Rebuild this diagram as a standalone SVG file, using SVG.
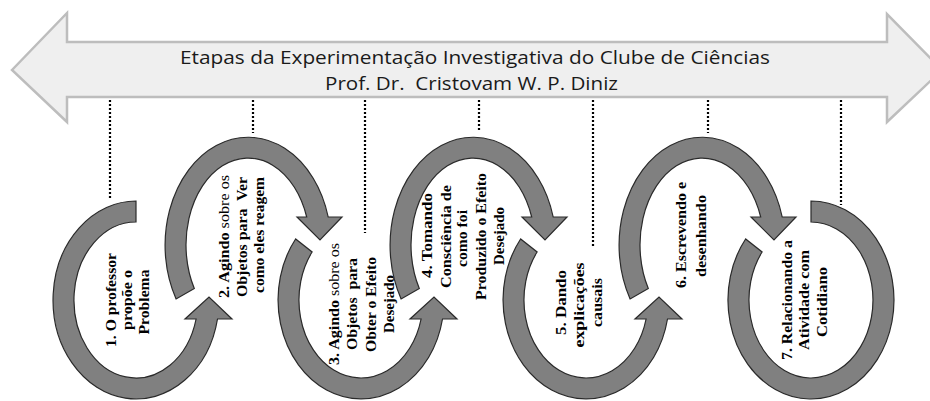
<svg xmlns="http://www.w3.org/2000/svg" width="930" height="401" viewBox="0 0 930 401">
<style>
.bg{fill:#ffffff}
.banner{fill:#efefef;stroke:#bdbdbd;stroke-width:2.5;stroke-linejoin:miter}
.title{font-family:"Open Sans","Liberation Sans",sans-serif;font-size:19px;fill:#1a1a1a}
.ring{fill:#808080;stroke:#2a2a2a;stroke-width:1.2;stroke-linejoin:miter}
.dot{stroke:#000;stroke-width:2.2;stroke-dasharray:2 2;fill:none}
.t{font-family:"Liberation Serif","Times New Roman",serif;font-weight:bold;font-size:15px;fill:#000;text-anchor:middle}
.n{font-weight:normal}
</style>
<rect class="bg" x="0" y="0" width="930" height="401"/>
<g id="banner">
<path class="banner" d="M12,70 L67,13 L67,42 L887,42 L887,14 L942,70 L887,122 L887,97 L67,97 L67,122 Z"/>
<text class="title" x="475" y="64" text-anchor="middle" textLength="590" lengthAdjust="spacingAndGlyphs">Etapas da Experimentação Investigativa do Clube de Ciências</text>
<text class="title" x="471.5" y="90" text-anchor="middle" textLength="293" lengthAdjust="spacingAndGlyphs" xml:space="preserve">Prof. Dr.  Cristovam W. P. Diniz</text>
</g>
<g id="connectors">
<line class="dot" x1="110" y1="100" x2="110" y2="198"/>
<line class="dot" x1="253" y1="100" x2="253" y2="133"/>
<line class="dot" x1="365" y1="100" x2="365" y2="233"/>
<line class="dot" x1="479" y1="100" x2="479" y2="130"/>
<line class="dot" x1="593" y1="100" x2="593" y2="247"/>
<line class="dot" x1="708" y1="100" x2="708" y2="133"/>
<line class="dot" x1="841" y1="100" x2="841" y2="205"/>
</g>
<g id="step1">
<path class="ring" d="M136,201 A83,99 0 1 0 217.5,319 L232,319 L209,297 L185,319 L196.1,319 A62,78 0 1 1 136,222 Z"/>
<text class="t" transform="translate(116,300) rotate(-90)" textLength="94" lengthAdjust="spacingAndGlyphs">1. O professor</text>
<text class="t" transform="translate(132,300) rotate(-90)" textLength="60" lengthAdjust="spacingAndGlyphs">propõe o</text>
<text class="t" transform="translate(149,302) rotate(-90)" textLength="65" lengthAdjust="spacingAndGlyphs">Problema</text>
</g>
<g id="step2">
<path class="ring" d="M176.1,299 A83,108 0 1 1 328.2,217 L342,217 L320,240 L297,217 L306.7,217 A62,87 0 1 0 194.3,288.5 Z"/>
<text class="t" transform="translate(229,236.5) rotate(-90)" textLength="123" lengthAdjust="spacingAndGlyphs">2. Agindo <tspan class="n">sobre os</tspan></text>
<text class="t" transform="translate(247,237) rotate(-90)" textLength="120" lengthAdjust="spacingAndGlyphs" xml:space="preserve">Objetos para  Ver</text>
<text class="t" transform="translate(264,235) rotate(-90)" textLength="116" lengthAdjust="spacingAndGlyphs">como eles reagem</text>
</g>
<g id="step3">
<path class="ring" d="M295.6,239 A83,99 0 1 0 442.5,319 L457,319 L434,297 L410,319 L421.1,319 A62,78 0 1 1 312.1,252 Z"/>
<text class="t" transform="translate(339,304) rotate(-90)" textLength="122" lengthAdjust="spacingAndGlyphs">3. Agindo <tspan class="n">sobre os</tspan></text>
<text class="t" transform="translate(357,304) rotate(-90)" textLength="92" lengthAdjust="spacingAndGlyphs" xml:space="preserve">Objetos  para</text>
<text class="t" transform="translate(376,304.5) rotate(-90)" textLength="95" lengthAdjust="spacingAndGlyphs">Obter o Efeito</text>
<text class="t" transform="translate(394,304) rotate(-90)" textLength="58" lengthAdjust="spacingAndGlyphs">Desejado</text>
</g>
<g id="step4">
<path class="ring" d="M401.1,299 A83,108 0 1 1 553.2,217 L567,217 L545,240 L522,217 L531.7,217 A62,87 0 1 0 419.3,288.5 Z"/>
<text class="t" transform="translate(432,235.5) rotate(-90)" textLength="85" lengthAdjust="spacingAndGlyphs">4. Tomando</text>
<text class="t" transform="translate(451,236.5) rotate(-90)" textLength="103" lengthAdjust="spacingAndGlyphs">Consciência de</text>
<text class="t" transform="translate(467,238.5) rotate(-90)" textLength="57" lengthAdjust="spacingAndGlyphs">como foi</text>
<text class="t" transform="translate(486,236.5) rotate(-90)" textLength="127" lengthAdjust="spacingAndGlyphs">Produzido o Efeito</text>
<text class="t" transform="translate(504,236) rotate(-90)" textLength="58" lengthAdjust="spacingAndGlyphs">Desejado</text>
</g>
<g id="step5">
<path class="ring" d="M520.6,239 A83,99 0 1 0 667.5,319 L682,319 L659,297 L635,319 L646.1,319 A62,78 0 1 1 537.1,252 Z"/>
<text class="t" transform="translate(566,302.5) rotate(-90)" textLength="65" lengthAdjust="spacingAndGlyphs">5. Dando</text>
<text class="t" transform="translate(584,305) rotate(-90)" textLength="85" lengthAdjust="spacingAndGlyphs">explicações</text>
<text class="t" transform="translate(602,302.5) rotate(-90)" textLength="49" lengthAdjust="spacingAndGlyphs">causais</text>
</g>
<g id="step6">
<path class="ring" d="M630.1,299 A83,108 0 1 1 782.2,217 L796,217 L774,240 L751,217 L760.7,217 A62,87 0 1 0 648.3,288.5 Z"/>
<text class="t" transform="translate(686,235) rotate(-90)" textLength="106" lengthAdjust="spacingAndGlyphs">6. Escrevendo e</text>
<text class="t" transform="translate(706,236) rotate(-90)" textLength="82" lengthAdjust="spacingAndGlyphs">desenhando</text>
</g>
<g id="step7">
<path class="ring" d="M745.6,239 A83,99 0 1 0 811,201 L811,222 A62,78 0 1 1 762.1,252 Z"/>
<text class="t" transform="translate(792,300) rotate(-90)" textLength="120" lengthAdjust="spacingAndGlyphs">7. Relacionando a</text>
<text class="t" transform="translate(809,300) rotate(-90)" textLength="100" lengthAdjust="spacingAndGlyphs">Atividade com</text>
<text class="t" transform="translate(827,302) rotate(-90)" textLength="70" lengthAdjust="spacingAndGlyphs">Cotidiano</text>
</g>
</svg>
